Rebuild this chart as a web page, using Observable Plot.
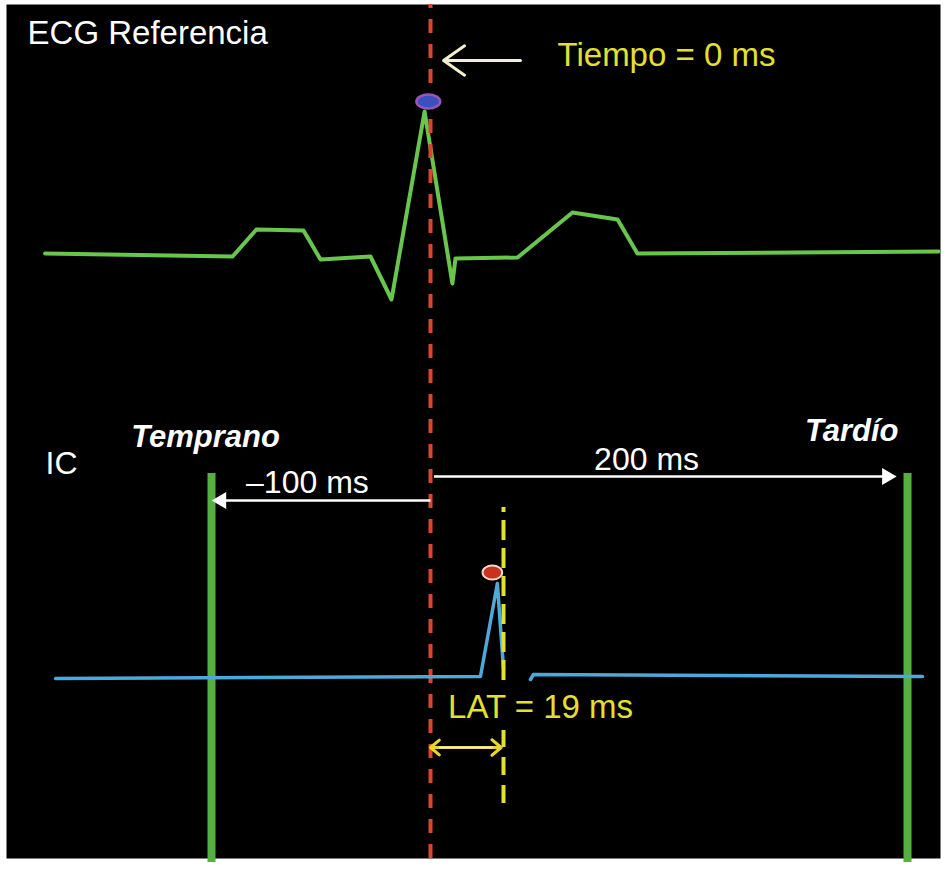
<!DOCTYPE html>
<html><head><meta charset="utf-8">
<script src="https://cdn.jsdelivr.net/npm/d3@7"></script>
<script src="https://cdn.jsdelivr.net/npm/@observablehq/plot@0.6"></script>
<style>body{margin:0;background:#fff}</style>
</head><body><div id="chart"></div>
<script>
// Schematic time axis (ms); the diagram is not drawn to scale, so it is piecewise
const timeBreaks = [-100, 0, 19, 200];
const timePixels = [211, 430, 503, 907];
// ECG reference trace: time (ms) and amplitude (mV)
const ecgTime = [-176, -90.4, -79.5, -58, -50.2, -27.4, -17.8, -2.7, 5.7, 6.5, 25.3, 49.9, 70.1, 79, 213.9];
const ecgAmp  = [0.01, -0.02, 0.25, 0.24, -0.05, -0.02, -0.45, 1.43, -0.29, -0.04, -0.03, 0.42, 0.35, 0.01, 0.03];
// IC (local electrogram) trace, two segments
const icTime1 = [-171.2, 13.0, 17.4, 19];
const icAmp1  = [0, 0.02, 0.95, 0.10];
const icTime2 = [31.1, 32.4, 206.7];
const icAmp2  = [-0.01, 0.04, 0.02];
const ecgBase = 6.16, icBase = 1.92;
// Window of interest and activation time
const windowTimes = [-100, 200];
const windowLabels = ["Temprano", "Tardío"];
const lat = 19;
const ecgPeak = {t: -1, a: 1.53};
const icPeak = {t: 16.1, a: 1.06};

const ecg = ecgTime.map((t, i) => ({t, y: ecgBase + ecgAmp[i]}));
const ic1 = icTime1.map((t, i) => ({t, y: icBase + icAmp1[i]}));
const ic2 = icTime2.map((t, i) => ({t, y: icBase + icAmp2[i]}));

const warp = d3.scaleLinear().domain(timeBreaks).range(timePixels);

const ellipse = (k) => ({draw(ctx, size) {
  const r = Math.sqrt(size / Math.PI), rx = r * k, ry = r, c = 0.5523;
  ctx.moveTo(rx, 0);
  ctx.bezierCurveTo(rx, ry * c, rx * c, ry, 0, ry);
  ctx.bezierCurveTo(-rx * c, ry, -rx, ry * c, -rx, 0);
  ctx.bezierCurveTo(-rx, -ry * c, -rx * c, -ry, 0, -ry);
  ctx.bezierCurveTo(rx * c, -ry, rx, -ry * c, rx, 0);
  ctx.closePath();
}});

const font = "Liberation Sans, Arial, Helvetica, sans-serif";
const yellow = "#e2e030";
const txt = (data, o) => Plot.text(data, {fontFamily: font, fontSize: 32, fill: "white", ...o});

const chart = Plot.plot({
  width: 947, height: 870,
  marginTop: 4, marginLeft: 6, marginRight: 7, marginBottom: 12,
  x: {type: "linear", transform: warp, domain: [0, 947], range: [0, 947], axis: null},
  y: {domain: [0, 8.7], range: [870, 0], axis: null},
  style: {background: "white", overflow: "visible"},
  marks: [
    Plot.frame({fill: "black"}),
    // ECG
    Plot.line(ecg, {x: "t", y: "y", stroke: "#68c64c", strokeWidth: 4, strokeLinejoin: "round"}),
    // Time zero line
    Plot.ruleX([0], {y1: 0.12, y2: 8.66, stroke: "#d9452e", strokeWidth: 4, strokeDasharray: "14,11"}),
    Plot.dot([ecgPeak], {x: "t", y: d => ecgBase + d.a, r: 7, symbol: ellipse(1.7), fill: "#3a4fc0", stroke: "#9a55b8", strokeWidth: 2.5}),
    // Window bars
    Plot.ruleX(windowTimes, {y1: 0.08, y2: 3.97, stroke: "#55b040", strokeWidth: 8}),
    // IC signal
    Plot.line(ic1, {x: "t", y: "y", stroke: "#4ea8da", strokeWidth: 3.5}),
    Plot.line(ic2, {x: "t", y: "y", stroke: "#4ea8da", strokeWidth: 3.5}),
    // LAT line (broken where the label sits)
    Plot.ruleX([lat], {y1: 1.90, y2: 3.63, stroke: yellow, strokeWidth: 4, strokeDasharray: "20,8"}),
    Plot.ruleX([lat], {y1: 0.67, y2: 1.40, stroke: yellow, strokeWidth: 4, strokeDasharray: "18,10"}),
    Plot.dot([icPeak], {x: "t", y: d => icBase + d.a, r: 7, symbol: ellipse(1.4), fill: "#c8321e", stroke: "#f3d6cc", strokeWidth: 2}),
    // Window arrows
    Plot.link([{x1: 0, x2: -96, y: 3.70}], {x1: "x1", x2: "x2", y1: "y", y2: "y", stroke: "white", strokeWidth: 2.5}),
    Plot.dot([{x: -95.5, y: 3.70}], {x: "x", y: "y", symbol: "triangle2", r: 8, rotate: -90, fill: "white"}),
    Plot.link([{x1: 0.9, x2: 190, y: 3.94}], {x1: "x1", x2: "x2", y1: "y", y2: "y", stroke: "white", strokeWidth: 2.5}),
    Plot.dot([{x: 190.8, y: 3.94}], {x: "x", y: "y", symbol: "triangle2", r: 8, rotate: 90, fill: "white"}),
    // Time zero pointer
    Plot.arrow([{x1: 26.6, x2: 3.4, y: 8.10}], {x1: "x1", x2: "x2", y1: "y", y2: "y", stroke: "#f2f0c8", strokeWidth: 3, headLength: 14, headAngle: 70}),
    // LAT double arrow: yellow heads, pale shaft
    Plot.arrow([{x1: 9, x2: 0, y: 1.23}, {x1: 9, x2: 18.4, y: 1.23}], {x1: "x1", x2: "x2", y1: "y", y2: "y", stroke: "#e8d62a", strokeWidth: 3, headLength: 12, headAngle: 80}),
    Plot.link([{x1: 2.2, x2: 16.2, y: 1.23}], {x1: "x1", x2: "x2", y1: "y", y2: "y", stroke: "#ecead8", strokeWidth: 2.2}),
    // Texts
    txt([{x: -184, y: 8.37}], {x: "x", y: "y", text: () => "ECG Referencia", textAnchor: "start", fontSize: 33}),
    txt([{x: 43.2, y: 8.15}], {x: "x", y: "y", text: () => "Tiempo = 0 ms", textAnchor: "start", fill: yellow, fontSize: 33}),
    txt([{x: -175.8, y: 4.07}], {x: "x", y: "y", text: () => "IC", textAnchor: "start"}),
    txt([{x: -102.7, y: 4.33, l: windowLabels[0]}, {x: 175, y: 4.39, l: windowLabels[1]}], {x: "x", y: "y", text: "l", fontWeight: "bold", fontStyle: "italic", fontSize: 31}),
    txt([{x: -56.2, y: 3.88}], {x: "x", y: "y", text: () => "–100 ms"}),
    txt([{x: 83.1, y: 4.11}], {x: "x", y: "y", text: () => "200 ms"}),
    txt([{x: 35.6, y: 1.63}], {x: "x", y: "y", text: () => `LAT = ${lat} ms`, fill: yellow, fontSize: 33})
  ]
});
document.getElementById("chart").append(chart);
</script>
</body></html>
